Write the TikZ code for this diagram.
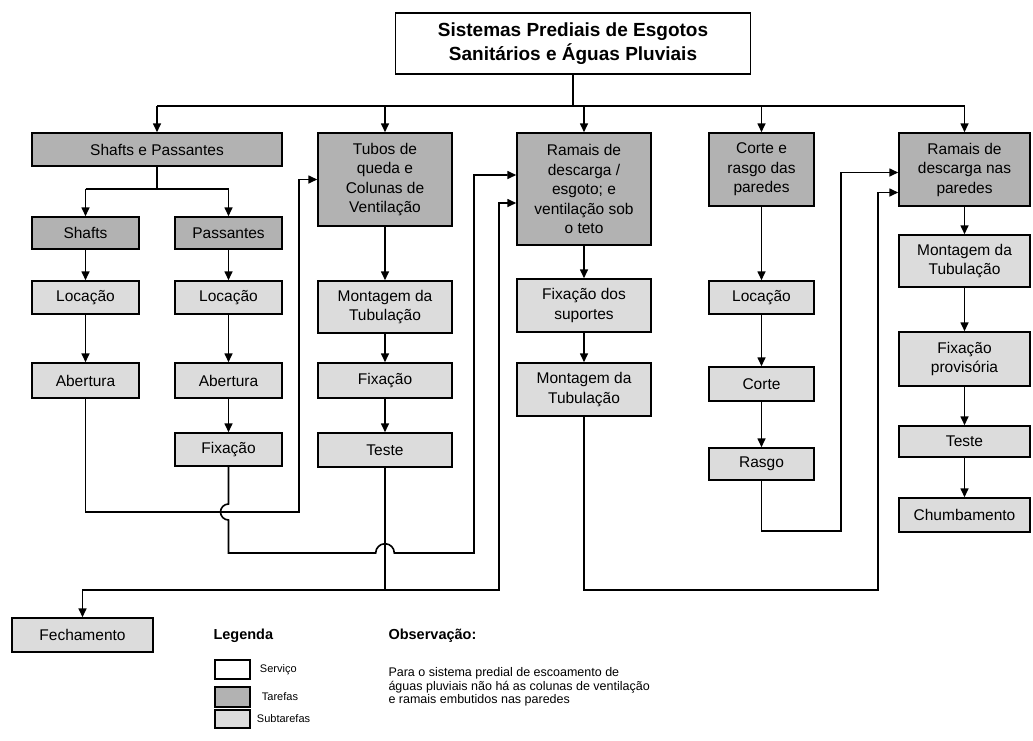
\documentclass[tikz,border=0pt]{standalone}
\usepackage{fontspec}
\setmainfont{Liberation Sans}
\usetikzlibrary{positioning, arrows.meta, calc}
\definecolor{tarefacor}{HTML}{B2B2B2}
\definecolor{subcor}{HTML}{DCDCDC}

\begin{document}
\begin{tikzpicture}[
  x=1pt, y=-1pt,
  >={Triangle[length=9pt,width=8pt]},
  every node/.style={font=\fontsize{15.5}{19.5}\selectfont},
  servico/.style={draw, line width=1.5pt, fill=white, align=center, inner sep=2pt},
  tarefa/.style={draw, line width=1.5pt, fill=tarefacor, align=center, inner sep=2pt},
  subtarefa/.style={draw, line width=1.5pt, fill=subcor, align=center, inner sep=2pt},
  sz/.style 2 args={minimum width=#1pt, minimum height=#2pt},
  lig/.style={line width=1.6pt},
  legtxt/.style={font=\fontsize{11}{13}\selectfont, inner sep=0pt},
  titulo/.style={font=\fontsize{14.5}{17}\selectfont\bfseries, anchor=west}
]
\useasboundingbox (0,0) rectangle (1033,740);

% Service
\node[servico, sz={355}{61}, font=\fontsize{19}{24}\selectfont\bfseries] (sis) at (573,43.3)
  {Sistemas Prediais de Esgotos\\Sanit\'arios e \'Aguas Pluviais};

% Tasks
\node[tarefa, sz={250}{33}] (shp) at (157,149.5) {Shafts e Passantes};
\node[tarefa, sz={134}{93}] (tub) at (385,179.5) {Tubos de\\queda e\\Colunas de\\Ventila\c{c}\~ao};
\node[tarefa, sz={134}{112}] (rms) at (584,189) {Ramais de\\descarga /\\esgoto; e\\ventila\c{c}\~ao sob\\o teto};
\node[tarefa, sz={105}{73}] (crt) at (761.5,169.5) {Corte e\\rasgo das\\paredes};
\node[tarefa, sz={131}{73}] (rmp) at (964.5,169.5) {Ramais de\\descarga nas\\paredes};
\node[tarefa, sz={107}{32}] (sft) at (85.5,233) {Shafts};
\node[tarefa, sz={107}{32}] (pas) at (228.5,233) {Passantes};

% Subtasks
\node[subtarefa, sz={107}{33}] (loc1) at (85.5,297.5) {Loca\c{c}\~ao};
\node[subtarefa, sz={107}{35}] (abe1) at (85.5,380.5) {Abertura};
\node[subtarefa, sz={107}{33}] (loc2) at (228.5,297.5) {Loca\c{c}\~ao};
\node[subtarefa, sz={107}{35}] (abe2) at (228.5,380.5) {Abertura};
\node[subtarefa, sz={107}{33}] (fix2) at (228.5,449.5) {Fixa\c{c}\~ao};
\node[subtarefa, sz={134}{52}] (mon3) at (385,307) {Montagem da\\Tubula\c{c}\~ao};
\node[subtarefa, sz={134}{35}] (fix3) at (385,380.5) {Fixa\c{c}\~ao};
\node[subtarefa, sz={134}{34}] (tes3) at (385,450) {Teste};
\node[subtarefa, sz={134}{53}] (fxs4) at (584,305.5) {Fixa\c{c}\~ao dos\\suportes};
\node[subtarefa, sz={134}{53}] (mon4) at (584,389.5) {Montagem da\\Tubula\c{c}\~ao};
\node[subtarefa, sz={105}{33}] (loc5) at (761.5,297.5) {Loca\c{c}\~ao};
\node[subtarefa, sz={105}{34}] (cor5) at (761.5,384) {Corte};
\node[subtarefa, sz={105}{32}] (ras5) at (761.5,464) {Rasgo};
\node[subtarefa, sz={131}{52}] (mon6) at (964.5,261) {Montagem da\\Tubula\c{c}\~ao};
\node[subtarefa, sz={131}{54}] (fxp6) at (964.5,359) {Fixa\c{c}\~ao\\provis\'oria};
\node[subtarefa, sz={131}{31}] (tes6) at (964.5,441.5) {Teste};
\node[subtarefa, sz={131}{34}] (chu6) at (964.5,515) {Chumbamento};
\node[subtarefa, sz={141}{34}] (fech) at (82.5,635) {Fechamento};

% Service to tasks
\draw[lig] (sis.south) -- (sis.south |- 0,106);
\draw[lig] (shp.north |- 0,106) -- (rmp.north |- 0,106);
\foreach \t in {shp,tub,rms,crt,rmp}
  \draw[lig,->] (\t.north |- 0,106) -- (\t.north);
\draw[lig] (shp.south) -- ++(0,22) coordinate (spj);
\draw[lig] (spj -| sft.north) -- (spj -| pas.north);
\draw[lig,->] (spj -| sft.north) -- (sft.north);
\draw[lig,->] (spj -| pas.north) -- (pas.north);

% Columns
\foreach \a/\b in {sft/loc1, loc1/abe1, pas/loc2, loc2/abe2, abe2/fix2, tub/mon3, mon3/fix3,
    fix3/tes3, rms/fxs4, fxs4/mon4, crt/loc5, loc5/cor5, cor5/ras5, rmp/mon6, mon6/fxp6,
    fxp6/tes6, tes6/chu6}
  \draw[lig,->] (\a) -- (\b);

% Links between columns
\draw[lig,->] (abe1.south) |- (299,512) |- (tub.west);
\draw[lig,->] (fix2.south) -- (fix2.south |- 0,504) arc[start angle=90, end angle=270, radius=8pt]
  -- (fix2.south |- 0,553) -- (375.7,553) arc[start angle=180, end angle=0, radius=9.3pt]
  -- (474,553) |- ($(rms.west)+(0,-14)$);
\draw[lig] (tes3.south) -- (tes3.south |- 0,590) coordinate (tsj);
\draw[lig,->] (tsj) -| (fech.north);
\draw[lig,->] (tsj) -- (499,590) |- ($(rms.west)+(0,14)$);
\draw[lig,->] (mon4.south) |- (878,590) |- ($(rmp.west)+(0,23)$);
\draw[lig,->] (ras5.south) |- (841,531) |- ($(rmp.west)+(0,3)$);

% Legend
\node[titulo] (leg) at (210,636) {Legenda};
\node[servico, sz={35}{19}] (lserv) at (232.5,669.5) {};
\node[tarefa, sz={35}{20}] (ltar) at (232.5,697) {};
\node[subtarefa, sz={35}{18}] (lsub) at (232.5,719) {};
\node[legtxt, right=9pt of lserv] {Servi\c{c}o};
\node[legtxt, right=11pt of ltar] {Tarefas};
\node[legtxt, right=6pt of lsub] {Subtarefas};

% Note
\node[titulo] (obs) at (385,636) {Observa\c{c}\~ao:};
\node[font=\fontsize{12.5}{13.3}\selectfont, align=left, anchor=west] (obstxt) at (385,687)
  {Para o sistema predial de escoamento de\\\'aguas pluviais n\~ao h\'a as colunas de ventila\c{c}\~ao\\e ramais embutidos nas paredes};

\end{tikzpicture}
\end{document}
